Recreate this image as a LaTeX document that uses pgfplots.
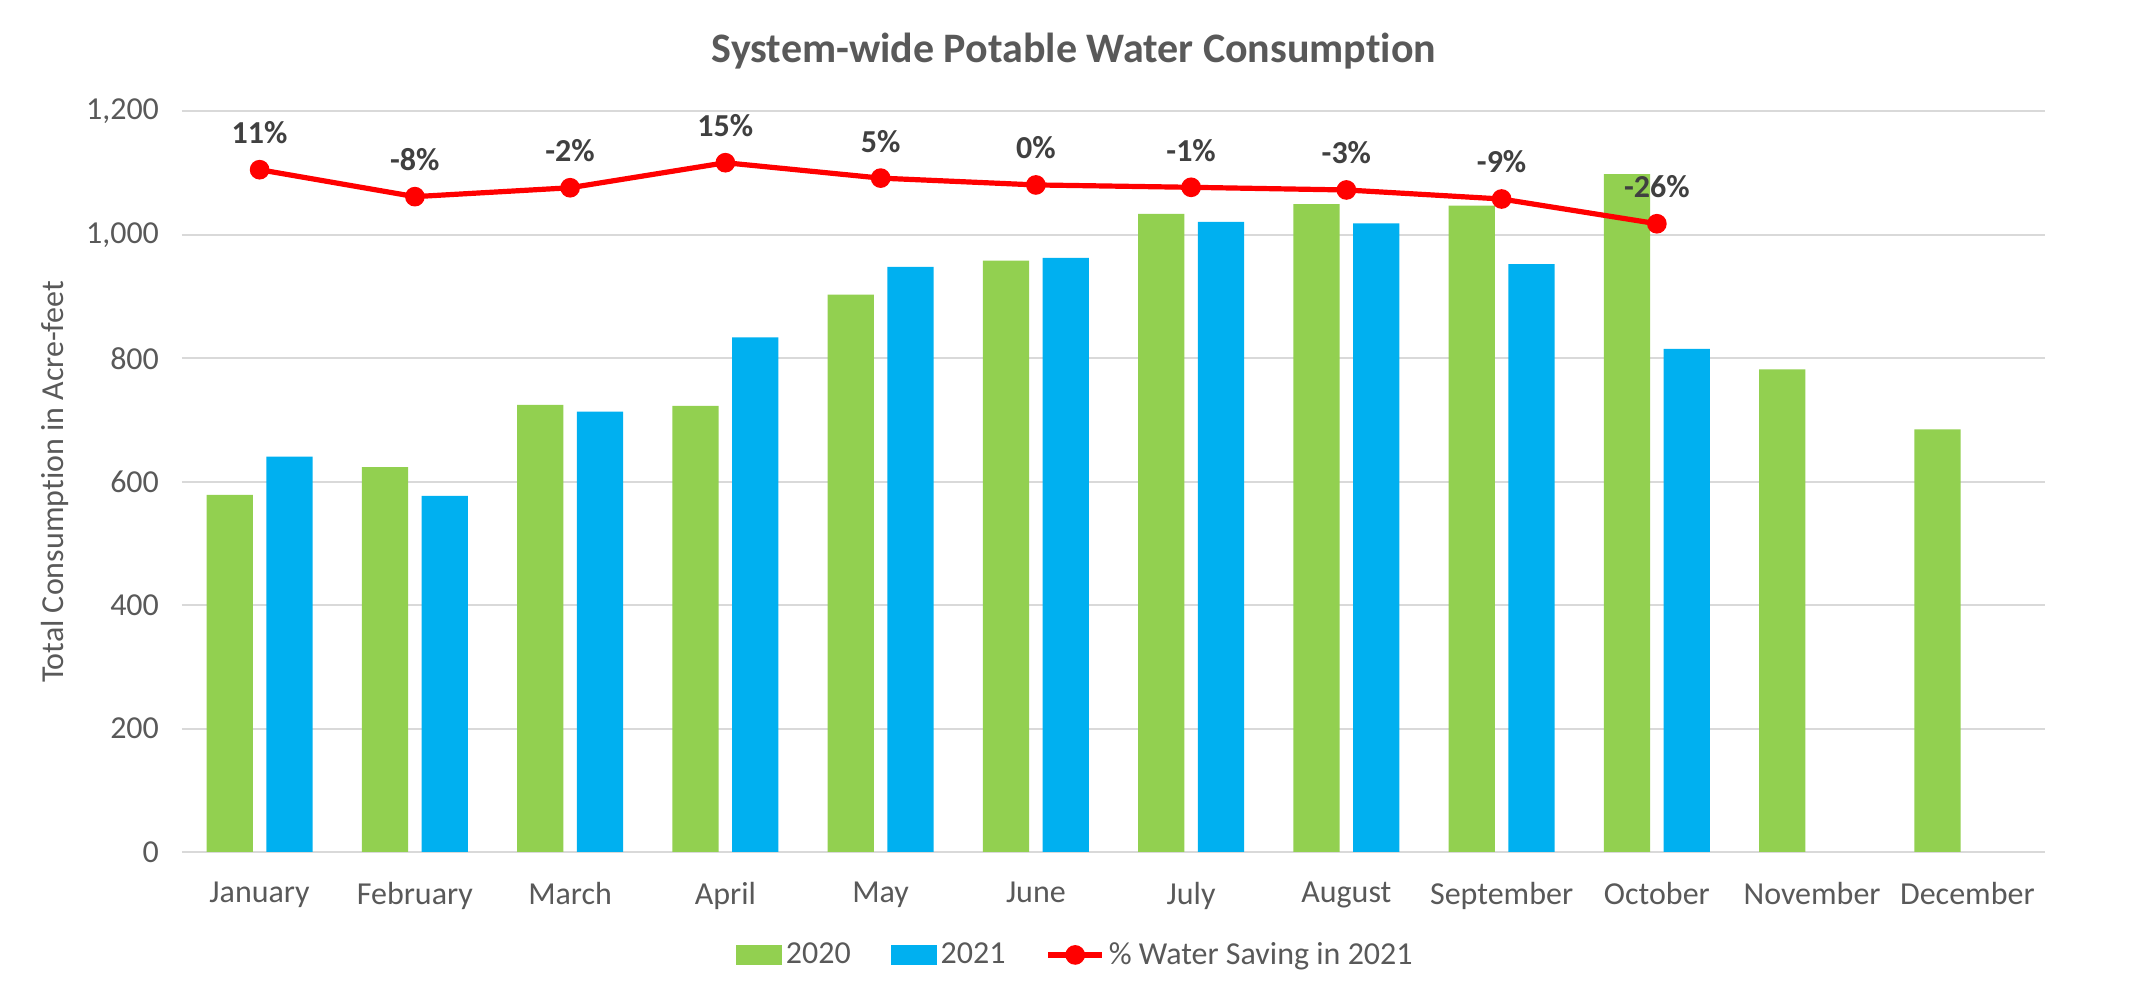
\documentclass[border=0pt]{standalone}
\usepackage{fontspec}
\setmainfont{Carlito}[RawFeature={-liga;-clig;-dlig}]
\usepackage{pgfplots}
\pgfplotsset{compat=1.18}
\usepackage{pgfplotstable}
\definecolor{cgreen}{HTML}{92D050}
\definecolor{cblue}{HTML}{00B0F0}
\definecolor{cred}{HTML}{FF0000}
\definecolor{cgrid}{HTML}{D9D9D9}
\definecolor{ctext}{HTML}{595959}
\definecolor{clabel}{HTML}{404040}

\pgfplotsset{
  linelegend/.style={legend image code/.code={%
    \draw[mark repeat=2,mark phase=2,##1] plot coordinates {(0pt,0pt) (13.5pt,0pt) (27pt,0pt)};}},
  greenlegend/.style={legend image code/.code={\fill[cgreen] (0pt,-5pt) rectangle (23pt,5pt);}},
  bluelegend/.style={legend image code/.code={\fill[cblue] (0pt,-5pt) rectangle (23pt,5pt);}},
}

\pgfplotstableread{
x y
0 578.8
1 623.7
2 724.6
3 722.9
4 903.4
5 958.5
6 1033.9
7 1050.0
8 1047.5
9 1098.3
10 782.2
11 684.7
}\yearA

\pgfplotstableread{
x y
0 640.7
1 577.0
2 713.6
3 833.9
4 948.3
5 962.7
6 1021.2
7 1018.6
8 952.5
9 815.3
}\yearB

\pgfplotstableread{
x p lab
0 10.7 11
1 -7.5 -8
2 -1.5 -2
3 15.4 15
4 5.0 5
5 0.4 0
6 -1.2 -1
7 -3.0 -3
8 -9.1 -9
9 -25.8 -26
}\saving

\begin{document}
\begin{tikzpicture}
\useasboundingbox (0,0) rectangle (1074.5pt,499.5pt);
\begin{axis}[
  at={(91pt,73.5pt)}, anchor=south west,
  scale only axis, width=931.5pt, height=370.25pt,
  xmin=-0.5, xmax=11.5, ymin=0, ymax=1200,
  xtick={0,1,2,3,4,5,6,7,8,9,10,11},
  xticklabels={January,February,March,April,May,June,July,August,September,October,November,December},
  ytick={0,200,400,600,800,1000,1200},
  axis line style={draw=none},
  major tick length=0pt,
  ymajorgrids, grid style={cgrid, line width=1pt},
  tick label style={font=\fontsize{16}{19}\selectfont, text=ctext},
  /pgf/number format/assume math mode=true,
  /pgf/number format/1000 sep={,},
  yticklabel style={xshift=-8pt},
  xticklabel style={yshift=-11.5pt},
  ylabel={Total Consumption in Acre-feet},
  ylabel style={font=\fontsize{16}{19}\selectfont, text=ctext,
    at={(axis description cs:-0.0682,0.5)}, anchor=center},
  legend style={at={(axis description cs:0.48,-0.139)}, anchor=center,
    draw=none, fill=none, legend columns=3,
    font=\fontsize{16}{19}\selectfont, text=ctext,
    /tikz/every even column/.append style={column sep=18pt}},
  legend cell align=left,
  clip=false,
]
\addplot[ybar, bar width=0.298, bar shift=-0.193, fill=cgreen, draw=none, greenlegend]
  table[x=x,y=y]{\yearA};
\addlegendentry{2020}
\addplot[ybar, bar width=0.298, bar shift=0.193, fill=cblue, draw=none, bluelegend]
  table[x=x,y=y]{\yearB};
\addlegendentry{2021}
\addlegendimage{cred, line width=2.6pt, mark=*, mark size=3.6pt, linelegend}
\addlegendentry{\% Water Saving in 2021}
\end{axis}
\begin{axis}[
  at={(91pt,73.5pt)}, anchor=south west,
  scale only axis, width=931.5pt, height=370.25pt,
  xmin=-0.5, xmax=11.5, ymin=-450, ymax=50,
  hide axis, clip=false,
]
\addplot[cred, line width=2.6pt, mark=*, mark size=3.6pt,
  mark options={solid},
  point meta=explicit symbolic,
  nodes near coords={\pgfplotspointmeta\%},
  nodes near coords style={anchor=center, yshift=18.5pt,
    font=\bfseries\fontsize{16}{19}\selectfont, text=clabel}]
  table[x=x,y=p,meta=lab]{\saving};
\end{axis}
\node[font=\bfseries\fontsize{21}{25}\selectfont, text=ctext] at (537pt,474pt)
  {System-wide Potable Water Consumption};
\end{tikzpicture}
\end{document}
